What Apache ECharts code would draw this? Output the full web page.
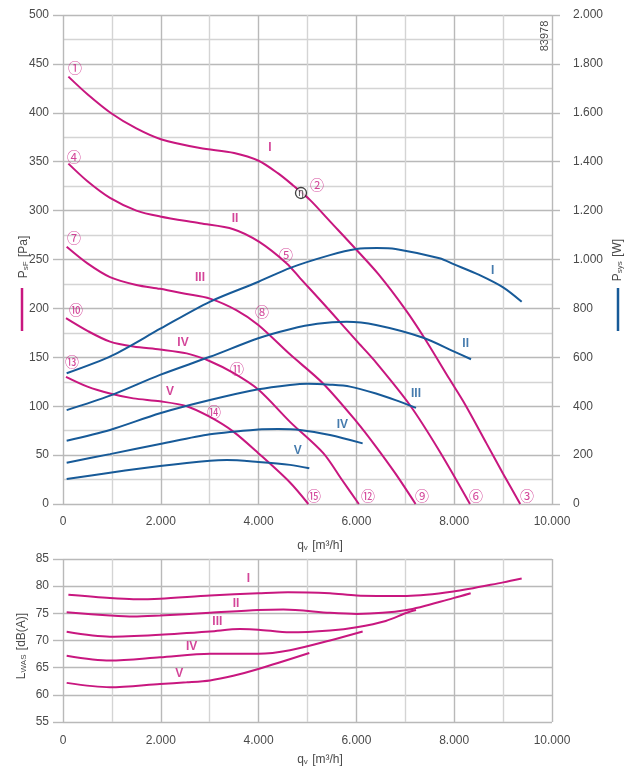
<!DOCTYPE html>
<html>
<head>
<meta charset="utf-8">
<script src="https://cdn.jsdelivr.net/npm/echarts@6/dist/echarts.min.js"></script>
<style>
  html, body { margin: 0; padding: 0; background: #fff; }
  #main { width: 642px; height: 773px; }
</style>
</head>
<body>
<div id="main"></div>
<script>
// static pressure psF [Pa] over flow qv [m3/h], speed steps I..V
const psfI = [[110, 437], [500, 419], [1000, 399], [1500, 384], [2000, 373], [2800, 364], [3500, 359], [4000, 351], [4400, 338], [4700, 326], [5050, 311], [5460, 289], [6000, 260], [6450, 235], [7000, 199], [7400, 169], [7900, 128], [8220, 102], [8660, 62], [9000, 31], [9350, 0]];
const psfII = [[110, 348], [500, 330], [961, 313], [1500, 300], [1984, 294], [2800, 287], [3483, 281], [4014, 268], [4575, 246], [4847, 231], [5323, 205], [5699, 184], [6000, 167], [6380, 146], [7096, 101], [7700, 54], [8323, 0]];
const psfIII = [[75, 263], [500, 246], [961, 232], [1500, 224], [1984, 220], [2500, 215], [3006, 210], [3552, 198], [3994, 183], [4642, 153], [5323, 123], [6006, 84], [6380, 60], [6800, 31], [7210, 0]];
const psfIV = [[61, 190], [500, 177], [961, 166], [1438, 161], [1984, 158], [2529, 154], [3006, 146], [3483, 134], [3994, 117], [4642, 84], [5323, 52], [5700, 25], [6050, 0]];
const psfV = [[61, 130], [500, 120], [961, 113], [1438, 108], [1984, 105], [2529, 100], [3006, 89], [3483, 74], [3994, 52], [4642, 22], [5017, 0]];

// power input Psys [W]
const psysI = [[75, 535], [1000, 607], [2000, 718], [3000, 827], [4000, 909], [4650, 966], [5460, 1018], [6000, 1043], [6420, 1047], [6800, 1043], [7700, 1005], [8000, 980], [8500, 938], [9000, 886], [9380, 827]];
const psysII = [[75, 384], [961, 443], [1984, 528], [3006, 602], [3994, 678], [4642, 715], [5200, 737], [5800, 745], [6400, 732], [7368, 680], [8000, 623], [8344, 592]];
const psysIII = [[75, 259], [961, 303], [1984, 371], [3006, 425], [3994, 469], [4642, 487], [5000, 492], [5460, 488], [5869, 480], [6400, 452], [6800, 425], [7219, 393]];
const psysIV = [[75, 169], [961, 204], [1984, 245], [3006, 285], [3994, 305], [4400, 307], [4847, 303], [5460, 282], [6128, 248]];
const psysV = [[75, 102], [961, 128], [1984, 155], [3006, 177], [3350, 180], [3994, 172], [4642, 160], [5037, 146]];

// sound power LWAS [dB(A)]
const lwaI = [[110, 78.4], [961, 77.8], [1438, 77.6], [1984, 77.7], [3006, 78.3], [3994, 78.7], [4600, 78.9], [5460, 78.7], [6006, 78.3], [7029, 78.2], [7982, 79.0], [9004, 80.7], [9380, 81.4]];
const lwaII = [[75, 75.2], [961, 74.6], [1438, 74.4], [1984, 74.6], [3006, 75.1], [3994, 75.6], [4506, 75.7], [5460, 75.1], [6006, 74.9], [7029, 75.6], [7982, 77.8], [8337, 78.7]];
const lwaIII = [[75, 71.6], [961, 70.7], [1984, 71.05], [3006, 71.65], [3620, 72.1], [3994, 72.0], [4642, 71.5], [5460, 71.85], [6006, 72.45], [6600, 73.6], [7029, 75.1], [7219, 75.6]];
const lwaIV = [[75, 67.2], [961, 66.3], [1984, 66.9], [3006, 67.55], [3994, 67.55], [4642, 68.2], [5460, 70.0], [6128, 71.65]];
const lwaV = [[75, 62.2], [961, 61.4], [1984, 62.0], [2529, 62.3], [3006, 62.65], [3483, 63.5], [3994, 64.75], [5037, 67.7]];

const steps = ['I', 'II', 'III', 'IV', 'V'];

// operating point tags (qv, psF)
const pointTags = [
  [245, 446, '①'], [5194, 326, '②'], [9489, 9, '③'],
  [225, 355, '④'], [4560, 255, '⑤'], [8446, 9, '⑥'],
  [225, 272, '⑦'], [4070, 197, '⑧'], [7342, 9, '⑨'],
  [266, 199, '⑩'], [3558, 138, '⑪'], [6237, 9, '⑫'],
  [184, 146, '⑬'], [3088, 94, '⑭'], [5133, 9, '⑮']
];
const etaPoint = [4867, 318];
const psfTagPos = [[4233, 364], [3517, 292], [2802, 231], [2454, 165], [2188, 115]];
const psysTagPos = [[8787, 954], [8235, 654], [7219, 450], [5712, 323], [4800, 218]];
const lwaTagPos = [[3790, 81.3], [3538, 76.75], [3156, 73.5], [2632, 68.8], [2378, 63.9]];

const MAGENTA = '#c8177f';
const BLUE = '#175a98';
const MAJOR = '#b9b9b9';
const MINOR = '#d4d4d4';
const TXT = '#4a4a4a';
const FONT = '"Liberation Sans", Arial, sans-serif';

function dots(v) {
  return String(v).replace(/\B(?=(\d{3})+(?!\d))/g, '.');
}

function xAx(grid, margin) {
  return {
    gridIndex: grid, type: 'value', min: 0, max: 10000, interval: 2000,
    axisLine: { show: false }, axisTick: { show: false },
    axisLabel: { margin: margin, color: TXT, fontSize: 12, fontFamily: FONT, formatter: dots },
    splitLine: { lineStyle: { color: MAJOR, width: 1.4 } },
    minorTick: { show: false, splitNumber: 2 },
    minorSplitLine: { show: true, lineStyle: { color: MINOR, width: 1.4 } }
  };
}

function curve(name, data, color, xi, yi) {
  return {
    name: name, type: 'line', data: data, xAxisIndex: xi, yAxisIndex: yi,
    smooth: 0.3, showSymbol: false, silent: true,
    lineStyle: { color: color, width: 2 }, z: 3
  };
}

function tags(list, texts, color, xi, yi) {
  return {
    type: 'scatter', xAxisIndex: xi, yAxisIndex: yi, silent: true, z: 5,
    symbolSize: 1, itemStyle: { color: 'rgba(0,0,0,0)' },
    label: { show: true, position: 'inside', formatter: '{b}', color: color, fontSize: 12, fontWeight: 'bold', fontFamily: FONT },
    data: list.map(function (p, i) { return { value: [p[0], p[1]], name: texts[i] }; })
  };
}

const series = [];
[psfI, psfII, psfIII, psfIV, psfV].forEach(function (d, i) { series.push(curve('psF ' + steps[i], d, MAGENTA, 0, 0)); });
[psysI, psysII, psysIII, psysIV, psysV].forEach(function (d, i) { series.push(curve('Psys ' + steps[i], d, BLUE, 0, 1)); });
[lwaI, lwaII, lwaIII, lwaIV, lwaV].forEach(function (d, i) { series.push(curve('LWAS ' + steps[i], d, MAGENTA, 1, 2)); });

series.push(tags(psfTagPos, steps, MAGENTA, 0, 0));
series.push(tags(psysTagPos, steps, BLUE, 0, 1));
series.push(tags(lwaTagPos, steps, MAGENTA, 1, 2));
series.push({
  type: 'scatter', xAxisIndex: 0, yAxisIndex: 0, silent: true, z: 5,
  symbolSize: 1, itemStyle: { color: 'rgba(0,0,0,0)' },
  label: { show: true, position: 'inside', formatter: '{b}', color: MAGENTA, fontSize: 14, fontFamily: '"Noto Sans CJK SC", sans-serif' },
  data: pointTags.map(function (p) { return { value: [p[0], p[1]], name: p[2] }; })
});
series.push({
  type: 'scatter', xAxisIndex: 0, yAxisIndex: 0, silent: true, z: 6,
  symbol: 'circle', symbolSize: 11,
  itemStyle: { color: '#fff', borderColor: '#111', borderWidth: 1.3 },
  label: { show: true, position: 'inside', formatter: 'η', color: '#111', fontSize: 10, fontFamily: FONT },
  data: [etaPoint]
});

const subText = {
  m: { fontSize: 12, color: TXT, fontFamily: FONT, verticalAlign: 'bottom', lineHeight: 14 },
  s: { fontSize: 8, color: TXT, fontFamily: FONT, verticalAlign: 'bottom', lineHeight: 14, padding: [0, 1, 0, 0] }
};

function nameText(x, y, text, rotated) {
  return {
    type: 'text', x: x, y: y, rotation: rotated ? Math.PI / 2 : 0, silent: true,
    style: { text: text, rich: subText, align: 'center', verticalAlign: 'middle', fill: TXT }
  };
}

const chart = echarts.init(document.getElementById('main'));
chart.setOption({
  animation: false,
  backgroundColor: '#fff',
  grid: [
    { left: 63, top: 15, width: 489, height: 489 },
    { left: 63, top: 559, width: 489, height: 163 }
  ],
  xAxis: [xAx(0, 12), xAx(1, 13)],
  yAxis: [
    {
      gridIndex: 0, type: 'value', position: 'left', min: 0, max: 500, interval: 50,
      axisLine: { show: false },
      axisTick: { show: true, length: 10, lineStyle: { color: MAJOR, width: 1.4 } },
      axisLabel: { margin: 14, color: TXT, fontSize: 12, fontFamily: FONT },
      splitLine: { lineStyle: { color: MAJOR, width: 1.4 } },
      minorTick: { show: false, splitNumber: 2 },
      minorSplitLine: { show: true, lineStyle: { color: MINOR, width: 1.4 } }
    },
    {
      gridIndex: 0, type: 'value', position: 'right', min: 0, max: 2000, interval: 200,
      axisLine: { show: false },
      axisTick: { show: true, length: 8, lineStyle: { color: MAJOR, width: 1.4 } },
      axisLabel: { margin: 21, color: TXT, fontSize: 12, fontFamily: FONT, formatter: dots },
      splitLine: { show: false }
    },
    {
      gridIndex: 1, type: 'value', position: 'left', min: 55, max: 85, interval: 5,
      axisLine: { show: false },
      axisTick: { show: true, length: 10, lineStyle: { color: MAJOR, width: 1.4 } },
      axisLabel: { margin: 14, color: TXT, fontSize: 12, fontFamily: FONT },
      splitLine: { lineStyle: { color: MAJOR, width: 1.4 } }
    }
  ],
  graphic: [
    nameText(23, 257, '{m|P}{s|sF}{m| [Pa]}', true),
    nameText(617, 260, '{m|P}{s|sys}{m| [W]}', true),
    nameText(21, 646, '{m|L}{s|WAS}{m| [dB(A)]}', true),
    nameText(320, 545, '{m|q}{s|v}{m| [m³/h]}', false),
    nameText(320, 759, '{m|q}{s|v}{m| [m³/h]}', false),
    { type: 'line', silent: true, shape: { x1: 22, y1: 288, x2: 22, y2: 331 }, style: { stroke: MAGENTA, lineWidth: 2.5 } },
    { type: 'line', silent: true, shape: { x1: 618, y1: 288, x2: 618, y2: 331 }, style: { stroke: BLUE, lineWidth: 2.5 } },
    {
      type: 'text', x: 545, y: 36, rotation: Math.PI / 2, silent: true,
      style: { text: '83978', fill: TXT, font: '11px ' + FONT, align: 'center', verticalAlign: 'middle', backgroundColor: '#fff' }
    }
  ],
  series: series
});
</script>
</body>
</html>
